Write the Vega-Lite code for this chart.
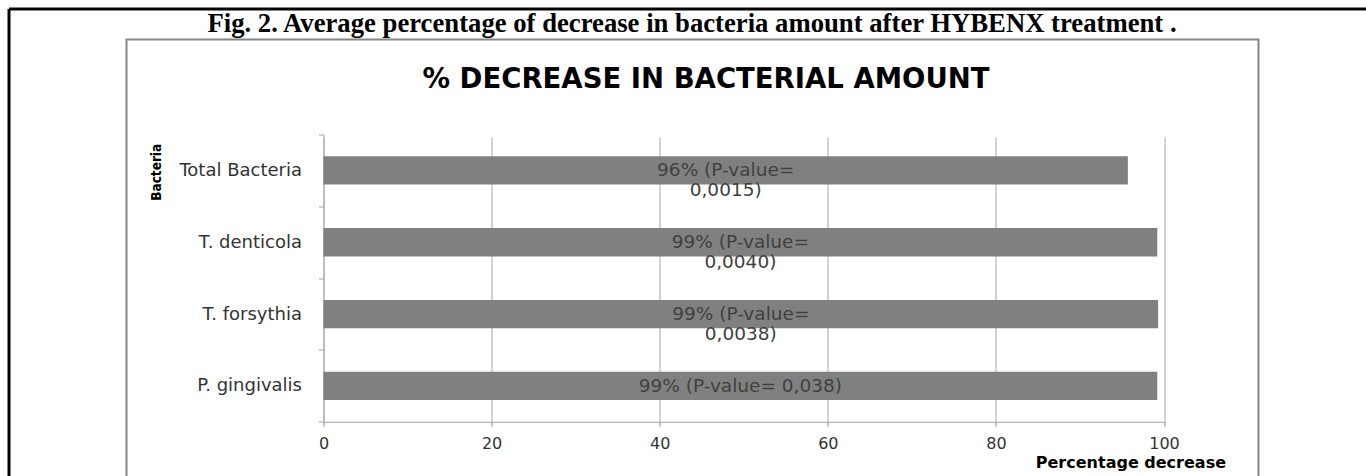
{
  "$schema": "https://vega.github.io/schema/vega-lite/v6.json",
  "padding": {"left": 8.5, "top": 8.5, "right": 0, "bottom": 0},
  "background": "white",
  "width": 1132,
  "height": 480,
  "view": {"stroke": "#868686", "strokeWidth": 2},
  "config": {"font": "DejaVu Sans"},
  "data": {
    "values": [
      {"bacteria": "Total Bacteria", "pct": 95.7, "label": ["96% (P-value=", "0,0015)"]},
      {"bacteria": "T. denticola", "pct": 99.2, "label": ["99% (P-value=", "0,0040)"]},
      {"bacteria": "T. forsythia", "pct": 99.3, "label": ["99% (P-value=", "0,0038)"]},
      {"bacteria": "P. gingivalis", "pct": 99.2, "label": "99%  (P-value= 0,038)"}
    ]
  },
  "resolve": {"scale": {"x": "independent", "y": "independent"}, "axis": {"x": "independent", "y": "independent"}},
  "layer": [
    {
      "mark": {"type": "bar", "color": "#808080"},
      "encoding": {
        "y": {
          "field": "bacteria",
          "type": "nominal",
          "sort": null,
          "scale": {"range": [95, 382.3], "paddingInner": 0.606, "paddingOuter": 0.303},
          "axis": {
            "orient": "left",
            "offset": -197,
            "bandPosition": 2.538,
            "tickExtra": true,
            "tickOffset": -21.76,
            "labelOffset": 21.76,
            "grid": false,
            "domainColor": "#a6a6a6",
            "tickColor": "#a6a6a6",
            "tickSize": 5,
            "labelFont": "DejaVu Sans",
            "labelFontSize": 18,
            "labelColor": "#333333",
            "labelPadding": 17,
            "title": "Bacteria",
            "titleFont": "DejaVu Sans Condensed",
            "titleFontSize": 13.5,
            "titleFontWeight": "bold",
            "titleColor": "black",
            "titleAngle": -90,
            "titleAlign": "center",
            "titleBaseline": "middle",
            "titleX": -167,
            "titleY": 132.3
          }
        },
        "x": {
          "field": "pct",
          "type": "quantitative",
          "scale": {"domain": [0, 100], "range": [197, 1037.5], "nice": false},
          "axis": {
            "orient": "bottom",
            "offset": -97.7,
            "values": [0, 20, 40, 60, 80, 100],
            "grid": true,
            "gridColor": "#a6a6a6",
            "gridWidth": 1,
            "domainColor": "#a6a6a6",
            "tickColor": "#a6a6a6",
            "tickSize": 5,
            "labelFont": "DejaVu Sans",
            "labelFontSize": 16,
            "labelColor": "#333333",
            "labelPadding": 9,
            "labelFlush": false,
            "title": "Percentage decrease",
            "titleFont": "DejaVu Sans",
            "titleFontSize": 16,
            "titleFontWeight": "bold",
            "titleColor": "black",
            "titleAlign": "right",
            "titleBaseline": "alphabetic",
            "titleX": 1099,
            "titleY": 46
          }
        }
      }
    },
    {
      "mark": {"type": "text", "align": "center", "baseline": "middle", "fontSize": 18.5, "lineHeight": 19.5, "color": "#404040", "font": "DejaVu Sans"},
      "encoding": {
        "y": {
          "field": "bacteria",
          "type": "nominal",
          "sort": null,
          "scale": {"range": [95, 382.3], "paddingInner": 0.606, "paddingOuter": 0.303},
          "axis": null
        },
        "x": {
          "field": "pct",
          "type": "quantitative",
          "scale": {"domain": [0, 200], "range": [197, 1037.5], "nice": false},
          "axis": null
        },
        "text": {"field": "label"}
      }
    },
    {
      "data": {"values": []},
      "mark": "point",
      "encoding": {
        "x": {
          "field": "fx",
          "type": "quantitative",
          "scale": {"domain": [0, 1], "range": [-118, 1250], "nice": false},
          "axis": {
            "orient": "top",
            "offset": 31,
            "grid": false,
            "ticks": false,
            "labels": false,
            "domainColor": "black",
            "domainWidth": 3,
            "title": "Fig. 2. Average percentage of decrease in bacteria amount after HYBENX treatment .",
            "titleFont": "Liberation Serif",
            "titleFontSize": 26.7,
            "titleFontWeight": "bold",
            "titleColor": "black",
            "titleAlign": "center",
            "titleBaseline": "alphabetic",
            "titleAngle": 0,
            "titleX": 565,
            "titleY": 23
          }
        },
        "y": {
          "field": "fy",
          "type": "quantitative",
          "scale": {"domain": [0, 1], "range": [-31, 520], "nice": false},
          "axis": {
            "orient": "left",
            "offset": 118,
            "grid": false,
            "ticks": false,
            "labels": false,
            "domainColor": "black",
            "domainWidth": 3,
            "title": "% DECREASE IN BACTERIAL AMOUNT",
            "titleFont": "DejaVu Sans",
            "titleFontSize": 27.5,
            "titleFontWeight": "bold",
            "titleColor": "black",
            "titleAngle": 0,
            "titleAlign": "center",
            "titleBaseline": "alphabetic",
            "titleX": 697,
            "titleY": 48
          }
        }
      }
    }
  ]
}
